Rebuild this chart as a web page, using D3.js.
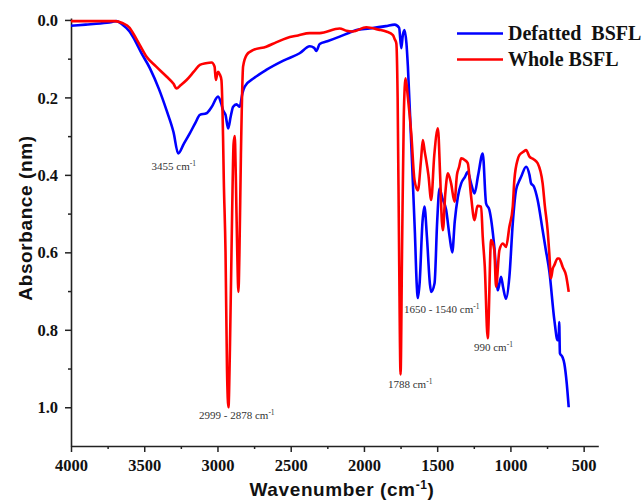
<!DOCTYPE html>
<html>
<head>
<meta charset="utf-8">
<script src="https://cdn.jsdelivr.net/npm/d3@7"></script>
<style>
  html, body { margin: 0; padding: 0; background: #fff; }
  svg { display: block; }
</style>
</head>
<body>
<div id="chart"></div>
<script>
// FTIR spectra, [wavenumber cm-1, absorbance]
const defatted = [
    [4000,0.015],[3900,0.012],[3800,0.009],[3755,0.007],[3720,0.005],[3690,0.003],[3650,0.012],
    [3600,0.03],[3575,0.045],[3520,0.085],[3461,0.125],[3400,0.178],[3348,0.233],[3300,0.29],
    [3268,0.345],[3230,0.32],[3189,0.293],[3150,0.265],[3120,0.245],[3075,0.241],[3040,0.225],
    [2996,0.198],[2975,0.215],[2962,0.233],[2945,0.245],[2927,0.28],[2910,0.25],[2893,0.224],
    [2870,0.218],[2848,0.224],[2830,0.19],[2814,0.172],[2750,0.15],[2667,0.129],[2550,0.105],
    [2439,0.086],[2370,0.068],[2340,0.072],[2325,0.08],[2302,0.062],[2250,0.055],[2166,0.043],
    [2100,0.033],[2052,0.026],[1961,0.022],[1850,0.016],[1790,0.012],[1760,0.02],[1745,0.073],
    [1735,0.04],[1723,0.026],[1710,0.06],[1700,0.12],[1677,0.32],[1652,0.55],[1640,0.68],
    [1632,0.718],[1620,0.68],[1600,0.52],[1587,0.482],[1570,0.56],[1550,0.68],[1541,0.702],
    [1518,0.68],[1500,0.52],[1484,0.435],[1465,0.46],[1439,0.49],[1415,0.56],[1397,0.6],
    [1380,0.52],[1359,0.457],[1336,0.422],[1310,0.405],[1291,0.392],[1270,0.42],[1245,0.448],
    [1220,0.4],[1189,0.345],[1166,0.474],[1144,0.49],[1110,0.586],[1086,0.698],[1064,0.663],
    [1050,0.69],[1030,0.72],[1007,0.663],[984,0.525],[962,0.44],[945,0.42],[927,0.405],
    [893,0.379],[870,0.4],[859,0.422],[840,0.43],[814,0.465],[780,0.543],[760,0.59],[734,0.65],
    [700,0.775],[678,0.827],[670,0.82],[667,0.78],[662,0.861],[645,0.87],[632,0.887],
    [615,0.94],[602,1.0]
];

const whole = [
    [4000,0.003],[3800,0.003],[3700,0.003],[3650,0.008],[3600,0.02],[3575,0.035],[3530,0.065],
    [3484,0.095],[3420,0.12],[3348,0.146],[3300,0.165],[3280,0.177],[3250,0.168],[3211,0.155],
    [3160,0.133],[3120,0.116],[3080,0.112],[3040,0.11],[3020,0.12],[3011,0.155],[3002,0.14],
    [2996,0.134],[2985,0.14],[2973,0.155],[2962,0.3],[2957,0.41],[2945,0.6],[2935,0.9],
    [2925,1.0],[2915,0.85],[2900,0.5],[2890,0.32],[2882,0.3],[2875,0.4],[2865,0.6],[2857,0.702],
    [2850,0.6],[2840,0.35],[2825,0.12],[2800,0.09],[2758,0.078],[2667,0.069],[2600,0.058],
    [2530,0.047],[2450,0.04],[2370,0.034],[2302,0.034],[2166,0.022],[2120,0.028],[2077,0.03],
    [1984,0.019],[1900,0.025],[1848,0.03],[1802,0.039],[1790,0.05],[1779,0.06],[1770,0.2],
    [1760,0.6],[1750,0.915],[1740,0.6],[1728,0.25],[1716,0.151],[1700,0.2],[1677,0.293],
    [1655,0.413],[1632,0.44],[1610,0.36],[1598,0.31],[1585,0.34],[1575,0.362],[1560,0.4],
    [1541,0.465],[1520,0.35],[1495,0.28],[1480,0.4],[1468,0.52],[1461,0.543],[1445,0.45],
    [1427,0.396],[1405,0.422],[1382,0.469],[1365,0.4],[1350,0.379],[1336,0.357],[1310,0.362],
    [1291,0.37],[1270,0.45],[1245,0.517],[1225,0.48],[1200,0.482],[1189,0.56],[1175,0.637],
    [1155,0.822],[1132,0.568],[1110,0.594],[1098,0.689],[1075,0.594],[1052,0.577],[1030,0.586],
    [1007,0.534],[984,0.482],[973,0.413],[950,0.36],[939,0.349],[910,0.34],[893,0.336],
    [870,0.353],[840,0.36],[814,0.37],[780,0.422],[765,0.48],[746,0.543],[735,0.6],[723,0.667],
    [711,0.642],[700,0.633],[678,0.616],[667,0.616],[655,0.625],[644,0.637],[620,0.66],[602,0.702]
];

const xMajor = [4000, 3500, 3000, 2500, 2000, 1500, 1000, 500];
const xMinor = [3750, 3250, 2750, 2250, 1750, 1250, 750];
const yMajor = [0.0, 0.2, 0.4, 0.6, 0.8, 1.0];
const yMinor = [0.1, 0.3, 0.5, 0.7, 0.9];

const seriesNames = ['Defatted  BSFL', 'Whole BSFL'];
const seriesColors = ['#0000ff', '#ff0000'];

// peak labels: text, wavenumber, absorbance where the label starts
const peakText = ['3455', '2999 - 2878', '1788', '1650 - 1540', '990'];
const peakWn = [3450, 3126, 1836, 1727, 1249];
const peakAbs = [0.388, 1.03, 0.951, 0.757, 0.856];

const width = 643;
const height = 504;
const svg = d3.select('#chart')
    .append('svg')
    .attr('width', width)
    .attr('height', height);

const x = d3.scaleLinear().domain([4000, 400]).range([71, 598.3]);
const y = d3.scaleLinear().domain([-0.005, 1.1]).range([18, 446]);

const serif = '"Liberation Serif", "Times New Roman", serif';
const sans = '"Liberation Sans", Arial, sans-serif';

// axes
const xAxis = svg.append('g')
    .attr('transform', `translate(0,${y.range()[1]})`)
    .call(d3.axisBottom(x).tickValues(xMajor).tickFormat(d3.format('d')).tickSize(6).tickSizeOuter(0));
svg.append('g')
    .attr('transform', `translate(0,${y.range()[1]})`)
    .call(d3.axisBottom(x).tickValues(xMinor).tickFormat('').tickSize(3).tickSizeOuter(0))
    .select('.domain').remove();

const yAxis = svg.append('g')
    .attr('transform', `translate(${x.range()[0]},0)`)
    .call(d3.axisLeft(y).tickValues(yMajor).tickFormat(d3.format('.1f')).tickSize(6).tickSizeOuter(0));
svg.append('g')
    .attr('transform', `translate(${x.range()[0]},0)`)
    .call(d3.axisLeft(y).tickValues(yMinor).tickFormat('').tickSize(3).tickSizeOuter(0))
    .select('.domain').remove();

svg.selectAll('.domain').attr('stroke', '#222').attr('stroke-width', 1.6);
svg.selectAll('.tick line').attr('stroke', '#222').attr('stroke-width', 1.5);
svg.selectAll('.tick text')
    .attr('fill', '#111')
    .style('font-family', serif)
    .style('font-weight', 'bold')
    .style('font-size', '16.5px');
xAxis.selectAll('.tick text').attr('y', 13);
yAxis.selectAll('.tick text').attr('x', -13).attr('dy', '0.34em');

// axis titles
const xTitle = svg.append('text')
    .attr('x', 342)
    .attr('y', 495.5)
    .attr('text-anchor', 'middle')
    .style('font-family', sans)
    .style('font-weight', 'bold')
    .style('font-size', '19px')
    .style('letter-spacing', '0.6px')
    .attr('fill', '#111');
xTitle.append('tspan').text('Wavenumber (cm');
xTitle.append('tspan').attr('dy', -7).style('font-size', '12px').text('-1');
xTitle.append('tspan').attr('dy', 7).text(')');

svg.append('text')
    .attr('transform', 'translate(31.5,218) rotate(-90)')
    .attr('text-anchor', 'middle')
    .style('font-family', sans)
    .style('font-weight', 'bold')
    .style('font-size', '19px')
    .style('letter-spacing', '0.6px')
    .attr('fill', '#111')
    .text('Absorbance (nm)');

// spectra
const line = d3.line()
    .x(d => x(d[0]))
    .y(d => y(d[1]))
    .curve(d3.curveMonotoneX);

[defatted, whole].forEach((data, i) => {
    svg.append('path')
        .datum(data)
        .attr('fill', 'none')
        .attr('stroke', seriesColors[i])
        .attr('stroke-width', 2.6)
        .attr('stroke-linejoin', 'round')
        .attr('d', line);
});

// peak annotations
peakText.forEach((t, i) => {
    const label = svg.append('text')
        .attr('x', x(peakWn[i]))
        .attr('y', y(peakAbs[i]))
        .style('font-family', serif)
        .style('font-size', '11px')
        .attr('fill', '#333');
    label.append('tspan').text(t + ' cm');
    label.append('tspan').attr('dy', -4).style('font-size', '7.5px').text('-1');
});

// legend
const legend = svg.append('g');
seriesNames.forEach((name, i) => {
    const ly = 33.5 + i * 26;
    legend.append('line')
        .attr('x1', 457).attr('x2', 503)
        .attr('y1', ly).attr('y2', ly)
        .attr('stroke', seriesColors[i])
        .attr('stroke-width', 2.6);
    legend.append('text')
        .attr('x', 508)
        .attr('y', ly + 6.5)
        .style('font-family', serif)
        .style('font-weight', 'bold')
        .style('font-size', '20px')
        .style('white-space', 'pre')
        .attr('fill', '#111')
        .text(name);
});
</script>
</body>
</html>
